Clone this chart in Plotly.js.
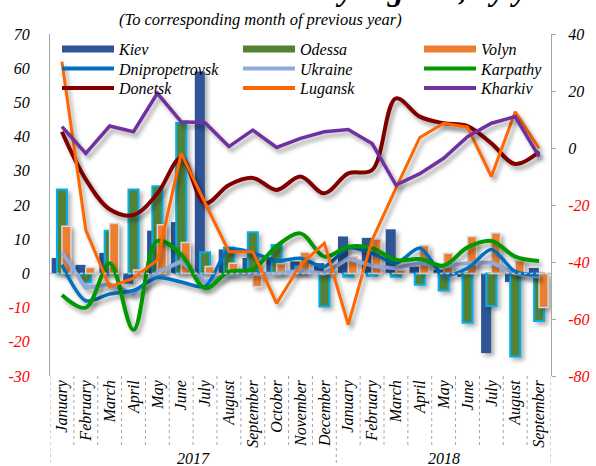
<!DOCTYPE html>
<html>
<head>
<meta charset="utf-8">
<script src="https://cdn.plot.ly/plotly-3.0.1.min.js"></script>
<style>
  html, body { margin: 0; padding: 0; background: #fff; }
  #chart { width: 596px; height: 466px; }
  .cartesianlayer .scatterlayer .js-line { filter: drop-shadow(3px 4px 2px rgba(0,0,0,0.35)); }
  .cartesianlayer .barlayer .point path { filter: drop-shadow(3px 3px 2px rgba(0,0,0,0.3)); }
</style>
</head>
<body>
<div id="chart"></div>
<script>
// ---- data ----
const months = ['January','February','March','April','May','June','July','August','September','October','November','December',
                'January','February','March','April','May','June','July','August','September'];
const years = ['2017', '2018'];
const yearMonths = [12, 9];

// bars (left axis, %)
const kiev   = [4.5, 2.5, 6, -3, 12.5, 15, 59, 7, 4.5, 4.5, 3.5, 3, 10.8, 10.4, 12.9, 2, 1, -1, -23.3, -2.5, 1.6];
const odessa = [24.5, -2.5, 12.5, 24.5, 25.5, 44, 6.2, 7.6, 12, 8.3, 2, -9.7, -1, -0.7, -1, -3.3, -5, -14.4, -9.5, -24.3, -13.9];
const volyn  = [13.8, 1.7, 14.6, 1, 14.2, 9, 2, 3, -3.9, 2.8, 6.2, 1, 4.9, 10, 1, 8.2, 5.9, 10.8, 11.8, 3.7, -10];

// lines (left axis, %)
const dnipro   = [2.5, -8, -6, -5, -1.2, -2.5, -3.8, 7, 6, 3.7, 4.4, 2, 7.4, 5.9, 3, 7.4, -0.5, 1.5, 7, 0.5, -0.5];
const ukraine  = [6.2, -4.2, -3.2, -6, 0.3, 3.5, -2.5, -0.4, -0.2, 0, 0.8, 0, 4.4, 2.2, 1.5, 3, 2, 3, 3.2, 0, -0.9];
const karpathy = [-6.3, -10, 3, -16.5, 9.5, 5.5, -4.3, 0.5, 1.2, 8, 11.7, 4.9, 7.8, 7.4, 3.9, 4.2, 2.3, 7.6, 9.5, 4.9, 3.6];

// lines (right axis, %)
const donetsk = [5.7, -11, -21.5, -23.5, -16, -3.5, -19.4, -13, -10.5, -14.7, -10, -15.9, -8.9, -7.7, 17.4, 11, 8.7, 7.7, 1.6, -5.6, -1.3];
const lugansk = [30.3, -28.8, -48.7, -45.7, -39.3, -1.9, -19.3, -36.4, -36.4, -54.5, -41, -33.4, -62, -32.3, -14.1, 3.7, 8.7, 7.3, -10, 12.7, -0.1];
const kharkiv = [7.5, -1.9, 7.7, 5.7, 19.2, 9.2, 8.9, 0.5, 6.3, 0.2, 3.4, 5.7, 6.5, 1.6, -13, -9, -3.6, 4, 8.7, 11, -3];

// tick labels
const leftTicks  = [70, 60, 50, 40, 30, 20, 10, 0, -10, -20, -30];
const rightTicks = [40, 20, 0, -20, -40, -60, -80];

// ---- build ----
const xs = months.map((m, i) => i);
const FONT = 'Liberation Serif, Times New Roman, serif';
const tickText = v => v < 0 ? '<span style="color:#FF0000">' + v + '</span>' : String(v);

const L = 50, R = 45, T = 34, B = 90, W = 596, H = 466;
const PW = W - L - R, PH = H - T - B;
const px2x = p => (p - L) / PW;
const py2y = p => (T + PH - p) / PH;

const traces = [];
traces.push({type: 'bar', name: 'Kiev', x: xs, y: kiev, width: 0.42, offset: -0.43,
  marker: {color: '#2F5597', line: {width: 0}}, showlegend: false, hoverinfo: 'skip'});
traces.push({type: 'bar', name: 'Odessa', x: xs, y: odessa, width: 0.42, offset: -0.21,
  marker: {color: '#548235', line: {color: '#00B0F0', width: 2}}, showlegend: false, hoverinfo: 'skip'});
traces.push({type: 'bar', name: 'Volyn', x: xs, y: volyn, width: 0.38, offset: 0.0,
  marker: {color: '#ED7D31', line: {color: '#D9D9D9', width: 1.5}}, showlegend: false, hoverinfo: 'skip'});

traces.push({type: 'scatter', mode: 'lines', name: 'Ukraine', x: xs, y: ukraine,
  line: {color: '#8FAADC', width: 4}, showlegend: false, hoverinfo: 'skip'});
traces.push({type: 'scatter', mode: 'lines', name: 'Dnipropetrovsk', x: xs, y: dnipro,
  line: {color: '#0070C0', width: 3.5, shape: 'spline', smoothing: 0.8}, showlegend: false, hoverinfo: 'skip'});
traces.push({type: 'scatter', mode: 'lines', name: 'Karpathy', x: xs, y: karpathy,
  line: {color: '#009900', width: 4, shape: 'spline', smoothing: 1}, showlegend: false, hoverinfo: 'skip'});

traces.push({type: 'scatter', mode: 'lines', name: 'Donetsk', x: xs, y: donetsk, yaxis: 'y2',
  line: {color: '#800000', width: 4, shape: 'spline', smoothing: 1}, showlegend: false, hoverinfo: 'skip'});
traces.push({type: 'scatter', mode: 'lines', name: 'Lugansk', x: xs, y: lugansk, yaxis: 'y2',
  line: {color: '#FF6600', width: 3}, showlegend: false, hoverinfo: 'skip'});
traces.push({type: 'scatter', mode: 'lines', name: 'Kharkiv', x: xs, y: kharkiv, yaxis: 'y2',
  line: {color: '#7030A0', width: 3.5}, showlegend: false, hoverinfo: 'skip'});

// legend entries (one legend per entry, in a 3x3 grid)
const legendItems = [
  ['Kiev', '#2F5597', 7], ['Odessa', '#548235', 7], ['Volyn', '#ED7D31', 7],
  ['Dnipropetrovsk', '#0070C0', 4], ['Ukraine', '#8FAADC', 4], ['Karpathy', '#009900', 4],
  ['Donetsk', '#800000', 4], ['Lugansk', '#FF6600', 4], ['Kharkiv', '#7030A0', 4]
];
const legColPx = [57, 238, 419];
const legRowPx = [49, 68.5, 88];
const layout = {
  width: W, height: H,
  margin: {l: L, r: R, t: T, b: B, pad: 0},
  paper_bgcolor: '#fff', plot_bgcolor: '#fff',
  barmode: 'overlay',
  font: {family: FONT, size: 16, color: '#000', style: 'italic'},
  xaxis: {
    range: [-0.5, months.length - 0.5], tickmode: 'array', tickvals: xs, ticktext: months,
    tickangle: -90, showgrid: false, zeroline: false, showline: false, ticks: '',
    tickfont: {family: FONT, size: 16, style: 'italic'}, ticklabelstandoff: 0, fixedrange: true
  },
  yaxis: {
    range: [-30, 70], tickmode: 'array', tickvals: leftTicks, ticktext: leftTicks.map(tickText),
    showgrid: false, zeroline: false, showline: true, linecolor: '#A6A6A6', linewidth: 1,
    ticks: '', ticklabelstandoff: 16, tickfont: {family: FONT, size: 16, style: 'italic'}
  },
  yaxis2: {
    range: [-80, 40], overlaying: 'y', side: 'right', tickmode: 'array', tickvals: rightTicks,
    ticktext: rightTicks.map(tickText), showgrid: false, zeroline: false, showline: true,
    linecolor: '#A6A6A6', linewidth: 1, ticks: 'outside', ticklen: 4, tickcolor: '#A6A6A6',
    ticklabelstandoff: 9, tickfont: {family: FONT, size: 16, style: 'italic'}
  },
  shapes: [],
  annotations: []
};

legendItems.forEach((it, k) => {
  const key = k === 0 ? 'legend' : 'legend' + (k + 1);
  const col = k % 3, row = Math.floor(k / 3);
  traces.push({type: 'scatter', mode: 'lines', name: it[0], x: [null], y: [null],
    line: {color: it[1], width: it[2]}, legend: key, hoverinfo: 'skip'});
  layout[key] = {
    x: px2x(legColPx[col]), y: py2y(legRowPx[row]), xanchor: 'left', yanchor: 'middle',
    bgcolor: 'rgba(0,0,0,0)', borderwidth: 0, itemwidth: 52, itemclick: false, itemdoubleclick: false,
    font: {family: FONT, size: 16, color: '#000', style: 'italic'}
  };
});

// dotted zero line of the category axis
layout.shapes.push({type: 'line', xref: 'paper', x0: 0, x1: 1, yref: 'y', y0: 0, y1: 0,
  line: {color: '#BFBFBF', width: 1.5, dash: 'dot'}, layer: 'above'});

// separators below the plot
const yearStarts = [0];
yearMonths.forEach((n, i) => yearStarts.push(yearStarts[i] + n));
for (let i = 0; i <= months.length; i++) {
  const isYear = yearStarts.indexOf(i) >= 0;
  layout.shapes.push({type: 'line', xref: 'x', x0: i - 0.5, x1: i - 0.5, yref: 'paper',
    y0: 0, y1: isYear ? py2y(H + 2) : py2y(447), line: {color: '#A6A6A6', width: 1, dash: 'dot'}});
}
// year labels
years.forEach((yr, i) => {
  layout.annotations.push({text: yr, xref: 'x', x: (yearStarts[i] + yearStarts[i + 1] - 1) / 2,
    yref: 'paper', y: py2y(458), yanchor: 'middle', showarrow: false,
    font: {family: FONT, size: 16, style: 'italic', color: '#000'}});
});
// subtitle and (cut-off) title
layout.annotations.push({text: '(To corresponding month of previous year)', xref: 'paper', x: px2x(260),
  yref: 'paper', y: py2y(20), yanchor: 'middle', showarrow: false,
  font: {family: FONT, size: 16.5, style: 'italic', color: '#000'}});
layout.annotations.push({text: 'by regions, by years', xref: 'paper', x: px2x(322), xanchor: 'left',
  yref: 'paper', y: py2y(8), yanchor: 'bottom', showarrow: false, borderpad: 0,
  font: {family: FONT, size: 32, style: 'italic', weight: 'bold', color: '#000'}});

Plotly.newPlot('chart', traces, layout, {displayModeBar: false, staticPlot: true});
</script>
</body>
</html>
